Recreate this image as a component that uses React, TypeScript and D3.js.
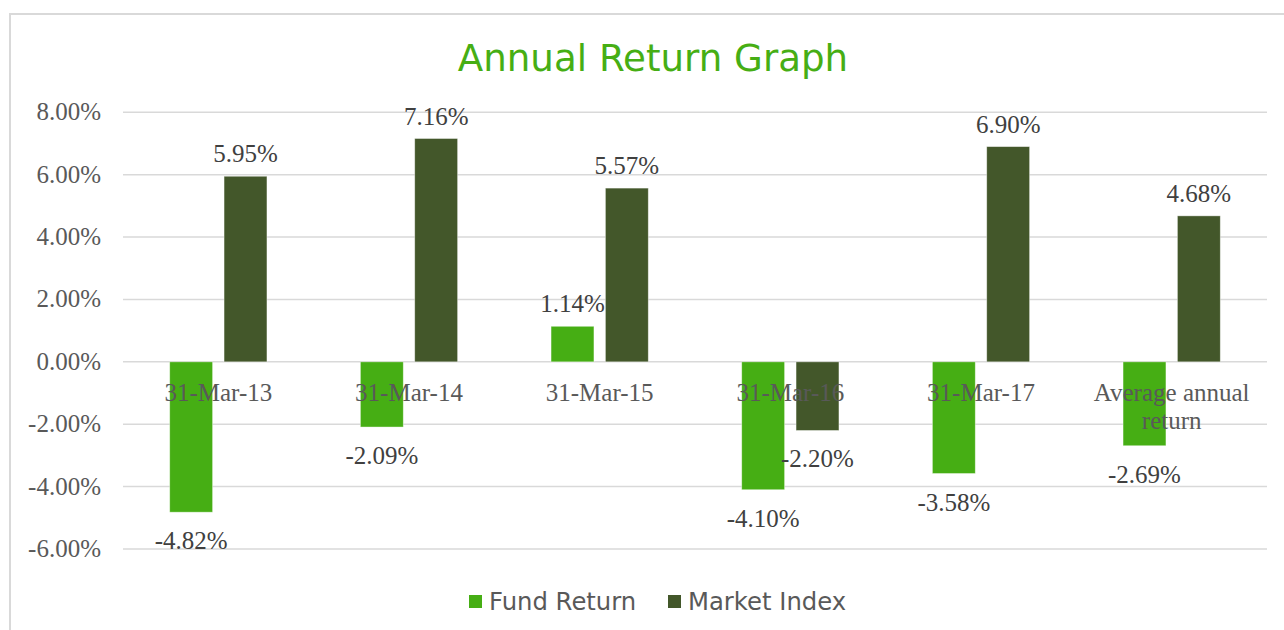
import React from "react";
import * as d3 from "d3";

const categories: string[][] = [
  ["31-Mar-13"],
  ["31-Mar-14"],
  ["31-Mar-15"],
  ["31-Mar-16"],
  ["31-Mar-17"],
  ["Average annual", "return"],
];
const fundReturn = [-4.82, -2.09, 1.14, -4.1, -3.58, -2.69];
const marketIndex = [5.95, 7.16, 5.57, -2.2, 6.9, 4.68];
const seriesNames = ["Fund Return", "Market Index"];
const seriesColors = ["#46AE14", "#43572A"];
const yTicks = [-6, -4, -2, 0, 2, 4, 6, 8];

const W = 1284;
const H = 630;

export default function App() {
  const left = 123;
  const right = 1267;
  const y = d3.scaleLinear().domain([-6, 8]).range([549, 112.3]);
  const keys = categories.map((_, i) => String(i));
  const x0 = d3.scaleBand<string>().domain(keys).range([left, right]).padding(0);
  const bw = x0.bandwidth();
  const barW = bw * 0.225;
  const gap = bw * 0.06;
  const series = [fundReturn, marketIndex];
  const fmt = (v: number) => v.toFixed(2) + "%";
  const serif = "'Liberation Serif', serif";
  const sans = "'DejaVu Sans', Verdana, sans-serif";
  const fs = 25;

  return (
    <svg
      width={W}
      height={H}
      style={{ position: "absolute", left: 0, top: 0, background: "#fff" }}
    >
      <rect x={10} y={14} width={1400} height={700} fill="#fff" stroke="#D9D9D9" strokeWidth={2} />
      <text
        x={653}
        y={71}
        textAnchor="middle"
        fontFamily={sans}
        fontSize={37.2}
        fill="#46AE14"
      >
        Annual Return Graph
      </text>
      {yTicks.map((t) => (
        <g key={t}>
          <line x1={left} x2={right} y1={y(t)} y2={y(t)} stroke="#D9D9D9" strokeWidth={1.5} />
          <text
            x={101}
            y={y(t) + 8}
            textAnchor="end"
            fontFamily={serif}
            fontSize={fs}
            fill="#595959"
          >
            {fmt(t)}
          </text>
        </g>
      ))}
      {series.map((vals, si) =>
        vals.map((v, i) => {
          const cx = (x0(String(i)) as number) + bw / 2;
          const bx = si === 0 ? cx - gap / 2 - barW : cx + gap / 2;
          const y0 = y(0);
          const yv = y(v);
          return (
            <rect
              key={`b${si}-${i}`}
              x={bx}
              y={Math.min(y0, yv)}
              width={barW}
              height={Math.abs(yv - y0)}
              fill={seriesColors[si]}
              stroke="#ffffff"
              strokeOpacity={0.5}
              strokeWidth={0.8}
            />
          );
        })
      )}
      {categories.map((lines, i) => {
        const cx = (x0(String(i)) as number) + bw / 2;
        return (
          <text
            key={`c${i}`}
            textAnchor="middle"
            fontFamily={serif}
            fontSize={fs}
            fill="#595959"
          >
            {lines.map((l, li) => (
              <tspan key={li} x={cx} y={401 + li * 28}>
                {l}
              </tspan>
            ))}
          </text>
        );
      })}
      {series.map((vals, si) =>
        vals.map((v, i) => {
          const cx = (x0(String(i)) as number) + bw / 2;
          const lx = si === 0 ? cx - gap / 2 - barW / 2 : cx + gap / 2 + barW / 2;
          const ly = v >= 0 ? y(v) - 14 : y(v) + 37;
          return (
            <text
              key={`l${si}-${i}`}
              x={lx}
              y={ly}
              textAnchor="middle"
              fontFamily={serif}
              fontSize={fs}
              fill="#404040"
            >
              {fmt(v)}
            </text>
          );
        })
      )}
      {seriesNames.map((n, i) => {
        const lx = i === 0 ? 469 : 668;
        return (
          <g key={n}>
            <rect x={lx} y={595} width={13} height={13} fill={seriesColors[i]} />
            <text x={lx + 20} y={610} fontFamily={sans} fontSize={24.3} fill="#595959">
              {n}
            </text>
          </g>
        );
      })}
    </svg>
  );
}
